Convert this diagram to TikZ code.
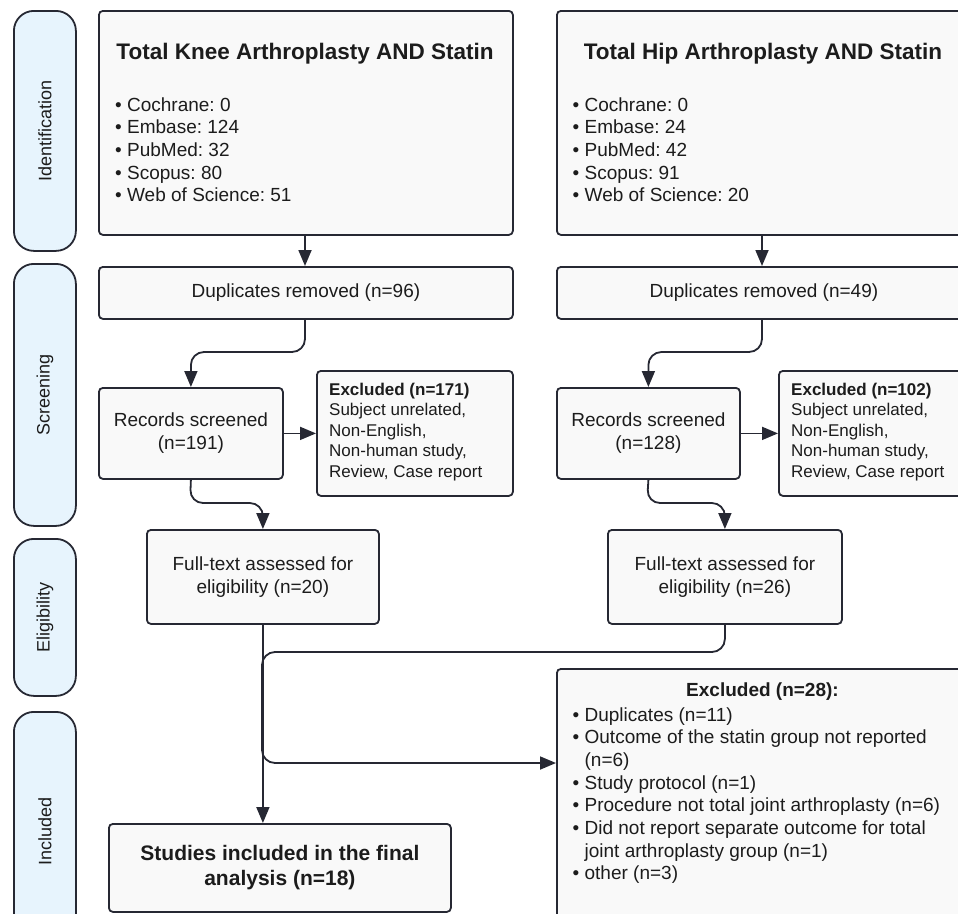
\documentclass[tikz,border=0pt]{standalone}
\usepackage{fontspec}
\usepackage{graphicx}
\setmainfont{Liberation Sans}
\usetikzlibrary{arrows.meta,calc}
\definecolor{linec}{HTML}{262833}
\definecolor{boxfill}{HTML}{F9F9F9}
\definecolor{lanefill}{HTML}{E7F4FD}
\definecolor{txt}{HTML}{1C1C1C}
\newcommand{\fsbody}{\fontsize{19}{22.7}\selectfont}
\newcommand{\fsexc}{\fontsize{17}{20.5}\selectfont}
\newcommand{\fstitle}{\fontsize{22.5}{26}\selectfont\bfseries}
\newcommand{\fslane}{\fontsize{18}{21}\selectfont}
\newcommand{\fsstud}{\fontsize{21}{25}\selectfont\bfseries}
\frenchspacing
\begin{document}
\frenchspacing
\begin{tikzpicture}[x=1pt,y=-1pt,
  box/.style={draw=linec, fill=boxfill, line width=1.8pt, rounded corners=4pt, inner sep=0pt, anchor=north west, text=txt, align=center},
  lane/.style={draw=linec, fill=lanefill, line width=1.8pt, rounded corners=20pt, inner sep=0pt, anchor=north west, text=txt, font=\fslane, minimum width=62pt},
  lbl/.style={inner sep=0pt, text=txt},
  arr/.style={draw=linec, line width=1.8pt, rounded corners=13pt, -{Triangle[length=16pt,width=13pt]}},
  conn/.style={draw=linec, line width=1.8pt, rounded corners=13pt},
]
\useasboundingbox (0,0) rectangle (958,913);
\clip (0,0) rectangle (958,913);

% lanes
\node[lane, minimum height=240pt] (ident) at (13,10) {\rotatebox{90}{Identification}};
\node[lane, minimum height=262pt] (screen) at (13,263) {\rotatebox{90}{Screening}};
\node[lane, minimum height=157pt] (elig) at (13,538) {\rotatebox{90}{Eligibility}};
\node[lane, minimum height=240pt] (incl) at (13,711) {\rotatebox{90}{Included}};

% identification boxes
\node[box, minimum width=414pt, minimum height=224pt] (tka) at (98,10) {};
\node[lbl, anchor=base, font=\fstitle] (tkat) at (305,59) {Total Knee Arthroplasty AND Statin};
\node[lbl, anchor=base west, font=\fsbody] (tkal) at (115,111) {\begin{tabular}[t]{@{}l@{\hspace{5.3pt}}l@{}}
•&Cochrane: 0\\ •&Embase: 124\\ •&PubMed: 32\\ •&Scopus: 80\\ •&Web of Science: 51\end{tabular}};

\node[box, minimum width=414pt, minimum height=224pt] (tha) at (556,10) {};
\node[lbl, anchor=base, font=\fstitle] (that) at (763,59) {Total Hip Arthroplasty AND Statin};
\node[lbl, anchor=base west, font=\fsbody] (thal) at (572.5,111) {\begin{tabular}[t]{@{}l@{\hspace{5.3pt}}l@{}}
•&Cochrane: 0\\ •&Embase: 24\\ •&PubMed: 42\\ •&Scopus: 91\\ •&Web of Science: 20\end{tabular}};

% screening
\node[box, minimum width=414pt, minimum height=52pt, font=\fsbody] (dupL) at (98,266) {Duplicates removed (n=96)};
\node[box, minimum width=414pt, minimum height=52pt, font=\fsbody] (dupR) at (556,266) {Duplicates removed (n=49)};

\node[box, minimum width=184pt, minimum height=91pt, font=\fsbody] (recL) at (98,387) {Records screened\\(n=191)};
\node[box, minimum width=183pt, minimum height=91pt, font=\fsbody] (recR) at (556,387) {Records screened\\(n=128)};

\node[box, minimum width=196pt, minimum height=125pt] (exL) at (316,370) {};
\node[lbl, anchor=base west, font=\fsexc] (exLt) at (329,395) {\begin{tabular}[t]{@{}l@{}}\textbf{Excluded (n=171)}\\Subject unrelated,\\Non-English,\\Non-human study,\\Review, Case report\end{tabular}};
\node[box, minimum width=196pt, minimum height=125pt] (exR) at (778,370) {};
\node[lbl, anchor=base west, font=\fsexc] (exRt) at (791,395) {\begin{tabular}[t]{@{}l@{}}\textbf{Excluded (n=102)}\\Subject unrelated,\\Non-English,\\Non-human study,\\Review, Case report\end{tabular}};

% eligibility
\node[box, minimum width=232pt, minimum height=94pt, font=\fsbody] (ftL) at (146,529) {Full-text assessed for\\eligibility (n=20)};
\node[box, minimum width=234pt, minimum height=94pt, font=\fsbody] (ftR) at (607,529) {Full-text assessed for\\eligibility (n=26)};

% included
\node[box, minimum width=342pt, minimum height=88pt, font=\fsstud] (stud) at (108,823) {Studies included in the final\\analysis (n=18)};
\node[box, minimum width=413pt, minimum height=270pt] (ex28) at (556,668) {};
\node[lbl, anchor=base, font=\fsbody\bfseries] (ex28t) at (762.5,696) {Excluded (n=28):};
\node[lbl, anchor=base west, font=\fsbody] (ex28l) at (572.5,721) {\begin{tabular}[t]{@{}l@{\hspace{5.3pt}}l@{}}
•&Duplicates (n=11)\\
•&Outcome of the statin group not reported\\
 &(n=6)\\
•&Study protocol (n=1)\\
•&Procedure not total joint arthroplasty (n=6)\\
•&Did not report separate outcome for total\\
 &joint arthroplasty group (n=1)\\
•&other (n=3)\end{tabular}};

% junction coordinates
\coordinate (jL) at (305,352);
\coordinate (jR) at (762,352);
\coordinate (kL) at (190,503);
\coordinate (kR) at (647,503);
\coordinate (jtop) at (262,652);
\coordinate (jmid) at (262,700);
\coordinate (jbr) at (262,763);

% connectors
\draw[arr] (tka.south -| jL) -- (dupL.north -| jL);
\draw[arr] (tha.south -| jR) -- (dupR.north -| jR);
\draw[arr] (dupL.south -| jL) -- (jL) -- (jL -| recL.north) -- (recL.north);
\draw[arr] (dupR.south -| jR) -- (jR) -- (jR -| recR.north) -- (recR.north);
\draw[arr] (recL.east) -- (exL.west |- recL.east);
\draw[arr] (recR.east) -- (exR.west |- recR.east);
\draw[arr] (recL.south) -- (kL) -- (kL -| ftL.north) -- (ftL.north);
\draw[arr] (recR.south) -- (kR) -- (kR -| ftR.north) -- (ftR.north);
\draw[arr] (ftL.south) -- (ftL.south |- stud.north);
\draw[conn] (ftR.south) -- (ftR.south |- jtop) -- (jtop) -- (jmid);
\draw[arr] (jmid) -- (jbr) -- (ex28.west |- jbr);
\end{tikzpicture}
\end{document}
